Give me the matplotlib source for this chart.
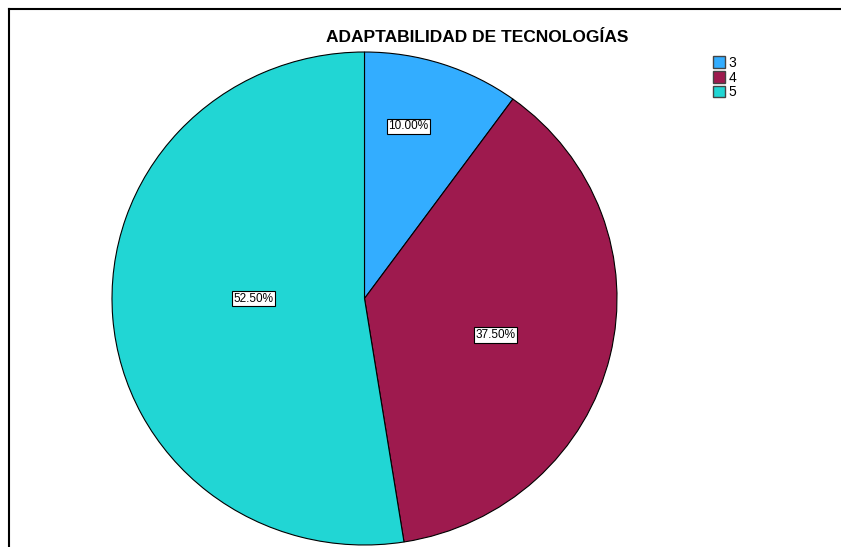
import numpy as np
import matplotlib.pyplot as plt
from matplotlib.lines import Line2D
from matplotlib.patches import Patch

plt.rcParams['font.family'] = ['Liberation Sans', 'DejaVu Sans']

categories = ['3', '4', '5']
percentages = [10.00, 37.50, 52.50]
colors = ['#33adff', '#9e1a4e', '#21d6d4']
# label placement (radius fraction, angle in degrees)
label_pos = [(0.72, 76), (0.54, -16), (0.44, 180)]

fig = plt.figure(figsize=(8.41, 5.47), dpi=100)

# outer frame (only left and top are visible)
fig.add_artist(Line2D([9 / 841, 9 / 841], [-0.01, 1 - 9 / 547], color='black', lw=1.5))
fig.add_artist(Line2D([9 / 841, 1.02], [1 - 9 / 547, 1 - 9 / 547], color='black', lw=1.5))

# pie is slightly elliptical in the original
cx, cy, rx, ry = 364.5, 298.5, 252.5, 246.5
ax = fig.add_axes([(cx - rx) / 841, 1 - (cy + ry) / 547, 2 * rx / 841, 2 * ry / 547])
wedges, _ = ax.pie(percentages, colors=colors, startangle=90, counterclock=False,
                   radius=1, wedgeprops=dict(edgecolor='black', linewidth=0.8))
ax.set_xlim(-1, 1)
ax.set_ylim(-1, 1)
ax.set_aspect('auto')
ax.axis('off')

for p, (fr, ang) in zip(percentages, label_pos):
    a = np.deg2rad(ang)
    ax.text(fr * np.cos(a), fr * np.sin(a), '%.2f%%' % p, ha='center', va='center',
            fontsize=8.5,
            bbox=dict(boxstyle='square,pad=0.15', fc='white', ec='black', lw=0.8))

fig.text(477 / 841, 1 - 38 / 547, 'ADAPTABILIDAD DE TECNOLOGÍAS', ha='center',
         va='center', fontsize=12.5, fontweight='bold')

handles = [Patch(facecolor=c, edgecolor='#444444', label=l) for c, l in zip(colors, categories)]
fig.legend(handles=handles, loc='upper left', bbox_to_anchor=(706 / 841, 1 - 49 / 547),
           frameon=False, fontsize=10, handlelength=0.9, handleheight=0.9,
           handletextpad=0.2, labelspacing=0.05, borderpad=0)

fig.savefig('out.png', dpi=100)
